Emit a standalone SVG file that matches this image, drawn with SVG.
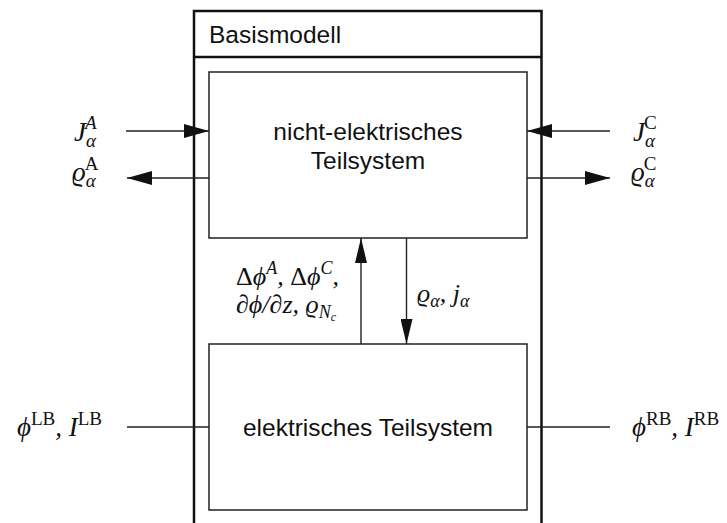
<svg xmlns="http://www.w3.org/2000/svg" width="727" height="523" viewBox="0 0 727 523">
<style>
.outer{fill:none;stroke:#111;stroke-width:2.5}
.box{fill:#fff;stroke:#222;stroke-width:1.5}
.ln{fill:none;stroke:#222;stroke-width:1.4}
.sans{font-family:"Liberation Sans",Arial,sans-serif;font-size:24.5px;fill:#111}
.m{font-family:"Liberation Serif","DejaVu Serif",serif;font-style:italic;font-size:27px;fill:#111}
.mid{font-size:26px}
.up{font-family:"Liberation Serif","DejaVu Serif",serif;font-style:normal}
.sm{font-size:19px}
.sm2{font-size:18px}
</style>
<defs>
<marker id="ah" markerWidth="25" markerHeight="14" refX="25" refY="7" orient="auto" markerUnits="userSpaceOnUse">
<path d="M0,0 L25,7 L0,14 Z" fill="#111"/>
</marker>
<marker id="av" markerWidth="25" markerHeight="12" refX="25" refY="6" orient="auto" markerUnits="userSpaceOnUse">
<path d="M0,0 L25,6 L0,12 Z" fill="#111"/>
</marker>
</defs>
<g id="basismodell">
<path class="outer" d="M194,523 V11 H541.5 V523"/>
<line class="outer" x1="194" y1="57" x2="541.5" y2="57"/>
<text class="sans" x="209" y="43">Basismodell</text>
</g>
<g id="nicht-elektrisch">
<rect class="box" x="209" y="72" width="318" height="166"/>
<text class="sans" x="368" y="140" text-anchor="middle">nicht-elektrisches</text>
<text class="sans" x="368" y="169" text-anchor="middle">Teilsystem</text>
</g>
<g id="elektrisch">
<rect class="box" x="209" y="344" width="318" height="166"/>
<text class="sans" x="368" y="436" text-anchor="middle">elektrisches Teilsystem</text>
</g>
<g id="connectors">
<line class="ln" x1="126" y1="131" x2="209" y2="131" marker-end="url(#ah)"/>
<line class="ln" x1="209" y1="178" x2="127" y2="178" marker-end="url(#ah)"/>
<line class="ln" x1="610" y1="131" x2="527" y2="131" marker-end="url(#ah)"/>
<line class="ln" x1="527" y1="178" x2="610" y2="178" marker-end="url(#ah)"/>
<line class="ln" x1="127" y1="427" x2="209" y2="427"/>
<line class="ln" x1="527" y1="427" x2="610" y2="427"/>
<line class="ln" x1="361" y1="344" x2="361" y2="238" marker-end="url(#av)"/>
<line class="ln" x1="406.5" y1="238" x2="406.5" y2="344" marker-end="url(#av)"/>
</g>
<g id="labels">
<text class="m" x="74" y="141">J<tspan class="sm" dx="0" dy="6">α</tspan><tspan class="sm" dx="-11" dy="-18">A</tspan></text>
<text class="m" x="72" y="181">ϱ<tspan class="sm" dx="0" dy="6">α</tspan><tspan class="sm up" dx="-11" dy="-17">A</tspan></text>
<text class="m" x="633" y="141">J<tspan class="sm" dx="0" dy="6">α</tspan><tspan class="sm up" dx="-11" dy="-18">C</tspan></text>
<text class="m" x="631" y="181">ϱ<tspan class="sm" dx="0" dy="6">α</tspan><tspan class="sm up" dx="-11" dy="-17">C</tspan></text>
<text class="m" x="102" y="436" text-anchor="end">ϕ<tspan class="sm up" dy="-11">LB</tspan><tspan dy="11">, I</tspan><tspan class="sm up" dy="-11">LB</tspan></text>
<text class="m" x="632" y="436">ϕ<tspan class="sm up" dy="-11">RB</tspan><tspan dy="11">, I</tspan><tspan class="sm up" dy="-11">RB</tspan></text>
<text class="m mid" x="236" y="285"><tspan class="up">Δ</tspan>ϕ<tspan class="sm2" dy="-11">A</tspan><tspan dy="11">, </tspan><tspan class="up">Δ</tspan>ϕ<tspan class="sm2" dy="-11">C</tspan><tspan dy="11">,</tspan></text>
<text class="m mid" x="236" y="313"><tspan class="up">∂</tspan>ϕ/<tspan class="up">∂</tspan>z, ϱ<tspan class="sm2" dy="5">N</tspan><tspan style="font-size:12px" dy="3">c</tspan></text>
<text class="m mid" x="417" y="302">ϱ<tspan class="sm2" dy="5">α</tspan><tspan dy="-5">, j</tspan><tspan class="sm2" dy="5">α</tspan></text>
</g>
</svg>
